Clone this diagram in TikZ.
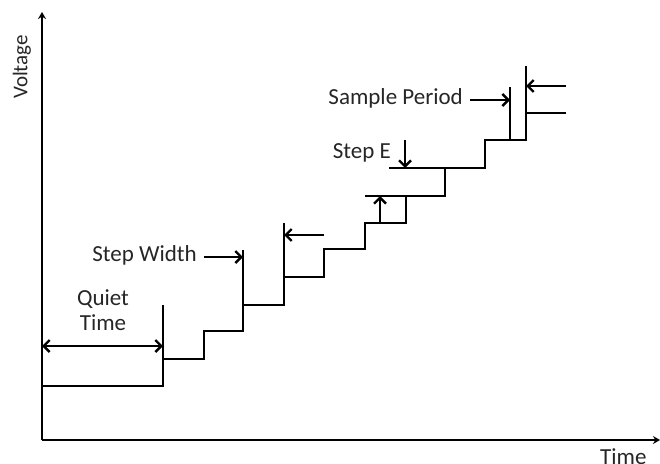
\documentclass[tikz,border=0pt]{standalone}
\usepackage{fontspec}
\setmainfont{Carlito}
\usetikzlibrary{arrows.meta}
\begin{document}
\begin{tikzpicture}[x=1pt,y=-1pt,
  axis/.style={line width=2.8pt,-{Stealth[length=7pt,width=8pt]}},
  stair/.style={line width=2.8pt,line join=miter},
  tick/.style={line width=2.8pt},
  pointer/.style={line width=2.6pt,-{Straight Barb[length=6pt,width=12pt,line width=2.4pt]}},
  both/.style={line width=2.6pt,{Straight Barb[length=6pt,width=12pt,line width=2.4pt]}-{Straight Barb[length=6pt,width=12pt,line width=2.4pt]}},
  lbl/.style={font=\fontsize{23}{25}\selectfont,inner sep=0pt,text=black!85}]
\useasboundingbox (0,0) rectangle (660,463);

% axes
\coordinate (O) at (42,440);
\coordinate (ytop) at (42,12);
\coordinate (xend) at (660,440);
\draw[axis] (O) -- (ytop);
\draw[axis] (O) -- (xend);
\node[lbl,rotate=90,font=\fontsize{21}{25}\selectfont] (vlab) at (22,67) {Voltage};
\node[lbl,anchor=north west] (tlab) at (600,448) {Time};

% staircase waveform
\draw[stair] (42,386) -- (163,386) -- (163,359) -- (204,359) -- (204,331)
  -- (243,331) -- (243,305) -- (284,305) -- (284,277) -- (324,277)
  -- (324,249) -- (365,249) -- (365,223) -- (406,223) -- (406,196)
  -- (445,196) -- (445,168) -- (485,168) -- (485,140) -- (526,140)
  -- (526,113) -- (566,113);

% vertical markers
\draw[tick] (163,386) -- (163,305);
\draw[tick] (243,331) -- (243,250);
\draw[tick] (284,305) -- (284,223);
\draw[tick] (510,140) -- (510,87);
\draw[tick] (526,140) -- (526,66);

% level extension lines
\draw[tick] (365,196) -- (406,196);
\draw[tick] (389,168) -- (445,168);

% quiet time
\coordinate (qa) at (42,346);
\coordinate (qb) at (163,346);
\draw[both] (qa) -- (qb);
\node[lbl,align=center] (quiet) at (103,310) {Quiet\\Time};

% step width
\node[lbl,anchor=east] (swlab) at (197,255) {Step Width};
\coordinate (swa) at (204,257);
\coordinate (swb) at (243,257);
\draw[pointer] (swa) -- (swb);
\coordinate (swc) at (324,235);
\coordinate (swd) at (284,235);
\draw[pointer] (swc) -- (swd);

% step height
\coordinate (ua) at (380,223);
\coordinate (ub) at (380,196);
\draw[pointer] (ua) -- (ub);
\node[lbl,anchor=east] (selab) at (391,153) {Step E};
\coordinate (da) at (405,140);
\coordinate (db) at (405,168);
\draw[pointer] (da) -- (db);

% sample period
\node[lbl,anchor=east] (splab) at (463,98) {Sample Period};
\coordinate (spa) at (470,100);
\coordinate (spb) at (510,100);
\draw[pointer] (spa) -- (spb);
\coordinate (spc) at (566,86);
\coordinate (spd) at (526,86);
\draw[pointer] (spc) -- (spd);
\end{tikzpicture}
\end{document}
